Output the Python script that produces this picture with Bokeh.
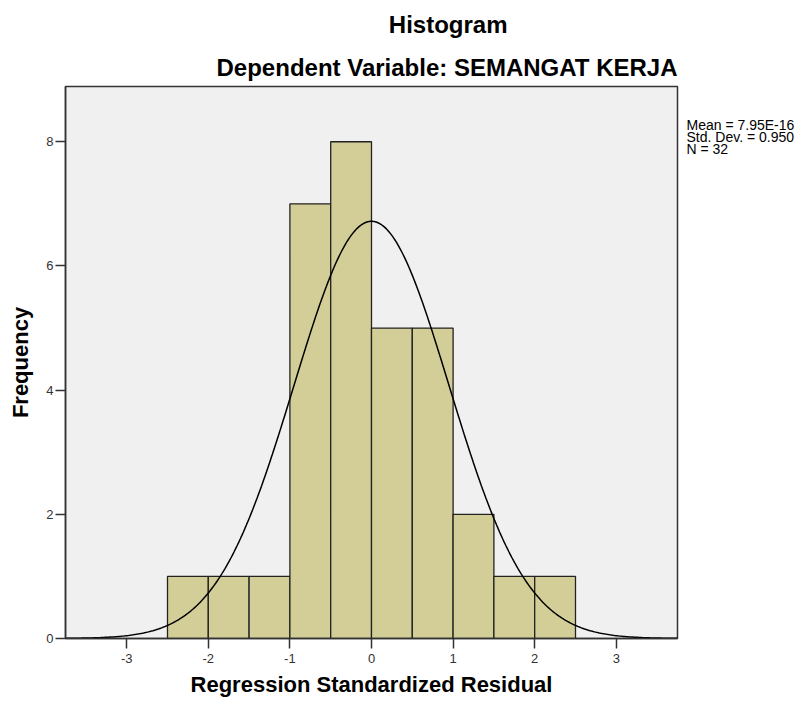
import numpy as np
from bokeh.plotting import figure
from bokeh.layouts import row
from bokeh.models import FixedTicker, Range1d, Title, PrintfTickFormatter
from bokeh.core.properties import value
from bokeh.embed import file_html
from bokeh.resources import INLINE

# ---- data ----
bin_left = [-2.5, -2.0, -1.5, -1.0, -0.5, 0.0, 0.5, 1.0, 1.5, 2.0]
bin_right = [-2.0, -1.5, -1.0, -0.5, 0.0, 0.5, 1.0, 1.5, 2.0, 2.5]
counts = [1, 1, 1, 7, 8, 5, 5, 2, 1, 1]
stat_mean = 7.95e-16
stat_sd = 0.950
stat_n = 32
x_ticks = [-3, -2, -1, 0, 1, 2, 3]
y_ticks = [0, 2, 4, 6, 8]
stats_text = ["Mean = 7.95E-16", "Std. Dev. = 0.950", "N = 32"]

FONT = "Liberation Sans"

p = figure(width=679, height=701, output_backend="svg", toolbar_location=None,
           x_range=Range1d(-3.75, 3.75), y_range=Range1d(0, 8.89),
           min_border_left=65, min_border_right=2, min_border_top=86,
           min_border_bottom=63, title=None)
p.background_fill_color = "#f0f0f0"
p.border_fill_color = "white"
p.outline_line_color = "#333333"
p.outline_line_width = 1.5
p.xgrid.visible = False
p.ygrid.visible = False

p.quad(left=bin_left, right=bin_right, bottom=0, top=counts,
       fill_color="#d3ce97", line_color="#222222", line_width=1.3)

# normal curve overlay from the reported statistics
bw = bin_right[0] - bin_left[0]
xs = np.linspace(-3.75, 3.75, 400)
ys = stat_n * bw * np.exp(-0.5 * ((xs - stat_mean) / stat_sd) ** 2) / (stat_sd * np.sqrt(2 * np.pi))
p.line(xs, ys, line_color="black", line_width=1.5)

for ax in (p.xaxis[0], p.yaxis[0]):
    ax.major_tick_out = 10
    ax.major_tick_in = 0
    ax.minor_tick_out = 0
    ax.minor_tick_in = 0
    ax.axis_line_color = "#333333"
    ax.axis_line_width = 1.5
    ax.major_tick_line_color = "#333333"
    ax.major_tick_line_width = 1.5
    ax.major_label_text_font = FONT
    ax.major_label_text_font_size = "13px"
    ax.major_label_text_color = "#333333"
    ax.axis_label_text_font = FONT
    ax.axis_label_text_font_size = "22px"
    ax.axis_label_text_font_style = "bold"
    ax.axis_label_text_color = "black"
    ax.formatter = PrintfTickFormatter(format="%d")

p.xaxis.ticker = FixedTicker(ticks=x_ticks)
p.yaxis.ticker = FixedTicker(ticks=y_ticks)
p.xaxis.axis_label = "Regression Standardized Residual"
p.yaxis.axis_label = "Frequency"
p.xaxis.major_label_standoff = 5
p.yaxis.major_label_standoff = 2
p.xaxis.axis_label_standoff = 6
p.yaxis.axis_label_standoff = 10

# titles
p.add_layout(Title(text="Dependent Variable: SEMANGAT KERJA", align="right", offset=0,
                   text_font=FONT, text_font_size="24px", text_font_style="bold",
                   text_color="black", standoff=12), "above")
p.add_layout(Title(text="Histogram", align="right", offset=170,
                   text_font=FONT, text_font_size="24px", text_font_style="bold",
                   text_color="black", standoff=16), "above")

# statistics text panel on the right (its frame lines up with the plot frame)
p2 = figure(width=125, height=701, output_backend="svg", toolbar_location=None,
            x_range=Range1d(0, 125), y_range=Range1d(638, 86),
            x_axis_location=None, y_axis_location=None, min_border=0, title=None)
p2.outline_line_color = None
p2.background_fill_color = "white"
p2.xgrid.visible = False
p2.ygrid.visible = False
p2.text(x=[7, 7, 7], y=[124, 136, 148], text=stats_text,
        text_font=value(FONT), text_font_size="14px", text_color="black",
        text_align="left", text_baseline="middle")

layout = row(p, p2, spacing=0)
open("out.html", "w").write(file_html(layout, INLINE))
